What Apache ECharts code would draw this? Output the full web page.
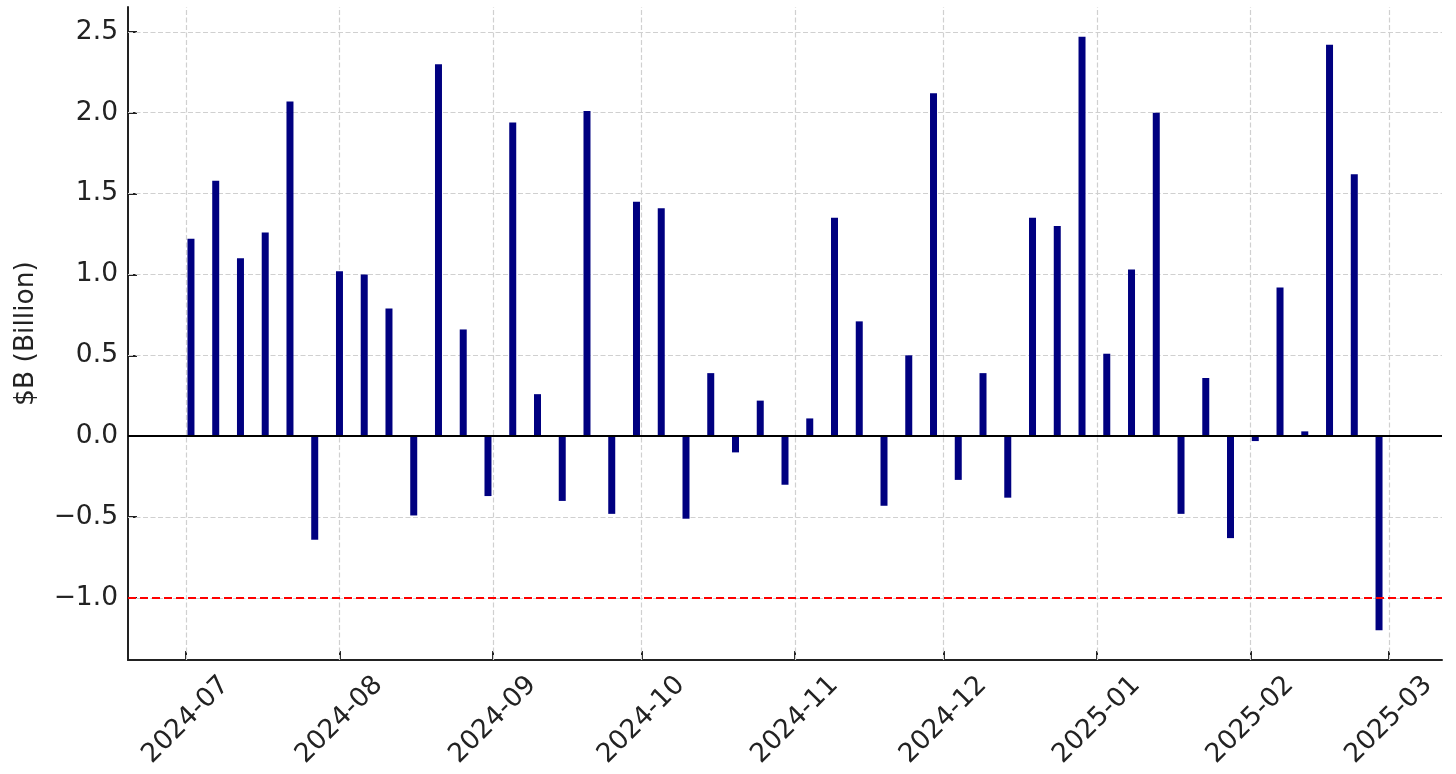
<!DOCTYPE html>
<html>
<head>
<meta charset="utf-8">
<script src="https://cdn.jsdelivr.net/npm/echarts@6/dist/echarts.min.js"></script>
<style>
html,body{margin:0;padding:0;background:#fff;}
#chart{width:1456px;height:774px;}
</style>
</head>
<body>
<div id="chart"></div>
<script>
// ---- data ----
const dates = [
  '2024-07-02','2024-07-07','2024-07-12','2024-07-17','2024-07-22','2024-07-27',
  '2024-08-01','2024-08-06','2024-08-11','2024-08-16','2024-08-21','2024-08-26','2024-08-31',
  '2024-09-05','2024-09-10','2024-09-15','2024-09-20','2024-09-25','2024-09-30',
  '2024-10-05','2024-10-10','2024-10-15','2024-10-20','2024-10-25','2024-10-30',
  '2024-11-04','2024-11-09','2024-11-14','2024-11-19','2024-11-24','2024-11-29',
  '2024-12-04','2024-12-09','2024-12-14','2024-12-19','2024-12-24','2024-12-29',
  '2025-01-03','2025-01-08','2025-01-13','2025-01-18','2025-01-23','2025-01-28',
  '2025-02-02','2025-02-07','2025-02-12','2025-02-17','2025-02-22','2025-02-27'
];
const values = [
  1.22, 1.58, 1.10, 1.26, 2.07, -0.64,
  1.02, 1.00, 0.79, -0.49, 2.30, 0.66, -0.37,
  1.94, 0.26, -0.40, 2.01, -0.48, 1.45,
  1.41, -0.51, 0.39, -0.10, 0.22, -0.30,
  0.11, 1.35, 0.71, -0.43, 0.50, 2.12,
  -0.27, 0.39, -0.38, 1.35, 1.30, 2.47,
  0.51, 1.03, 2.00, -0.48, 0.36, -0.63,
  -0.03, 0.92, 0.03, 2.42, 1.62, -1.20
];
const monthTicks = ['2024-07-01','2024-08-01','2024-09-01','2024-10-01','2024-11-01','2024-12-01','2025-01-01','2025-02-01','2025-03-01'];
const yTicks = [-1.0, -0.5, 0.0, 0.5, 1.0, 1.5, 2.0, 2.5];
const zeroLine = 0;
const thresholdLine = -1.0;
const yName = '$B (Billion)';

// ---- chart ----
const DAY = 86400000;
const ts = s => { const p = s.split('-').map(Number); return Date.UTC(p[0], p[1]-1, p[2]); };
const xMin = ts('2024-07-01') - 11.72 * DAY;
const xMax = ts('2025-03-01') + 10.72 * DAY;
const monthTs = monthTicks.map(ts);
const pad2 = n => (n < 10 ? '0' : '') + n;
const fmtMonth = v => { const d = new Date(v); return d.getUTCFullYear() + '-' + pad2(d.getUTCMonth() + 1); };
const fmtY = v => (v < 0 ? '\u2212' : '') + Math.abs(v).toFixed(1);

const FONT = 'DejaVu Sans';
const TXT = '#222222';
const GRID = '#d0d0d0';
const FS = 26.5;

const chart = echarts.init(document.getElementById('chart'), null, {renderer: 'canvas'});
chart.setOption({
  animation: false,
  backgroundColor: '#fff',
  textStyle: {fontFamily: FONT},
  grid: {left: 128, right: 14, top: 7, bottom: 114, containLabel: false},
  xAxis: {
    type: 'value',
    min: xMin,
    max: xMax,
    axisLine: {show: true, onZero: false, lineStyle: {color: TXT, width: 2}},
    axisTick: {show: true, inside: true, length: 9, lineStyle: {color: TXT, width: 2}, customValues: monthTs},
    axisLabel: {
      customValues: monthTs,
      formatter: fmtMonth,
      rotate: 45, align: 'center', verticalAlign: 'middle', margin: 60,
      fontSize: FS, color: TXT, fontFamily: FONT
    },
    splitLine: {show: false}
  },
  yAxis: {
    type: 'value',
    min: -1.3835,
    max: 2.6535,
    splitNumber: 8,
    name: yName,
    nameLocation: 'middle',
    nameGap: 88,
    nameRotate: 90,
    nameTextStyle: {fontSize: FS, color: TXT, fontFamily: FONT},
    axisLine: {show: true, lineStyle: {color: TXT, width: 2}},
    axisTick: {show: true, inside: true, length: 9, lineStyle: {color: TXT, width: 2}, customValues: yTicks},
    axisLabel: {customValues: yTicks, formatter: fmtY, fontSize: FS, color: TXT, margin: 10, fontFamily: FONT},
    splitLine: {show: false}
  },
  series: [
    {
      // dashed grid lines at the tick positions
      type: 'line',
      data: [],
      silent: true,
      markLine: {
        symbol: 'none', silent: true, z: 1,
        label: {show: false},
        lineStyle: {type: [5, 2.5], color: GRID, width: 1.2},
        data: monthTs.map(v => ({xAxis: v}))
          .concat(yTicks.map(v => ({yAxis: v})))
      },
      z: 0
    },
    {
      type: 'bar',
      data: dates.map((d, i) => [ts(d), values[i]]),
      barWidth: 7,
      itemStyle: {color: '#000080'},
      z: 2,
      markLine: {
        symbol: 'none', silent: true, z: 10,
        label: {show: false},
        data: [
          {yAxis: zeroLine, lineStyle: {color: '#000', width: 2, type: 'solid'}},
          {yAxis: thresholdLine, lineStyle: {color: '#ff0000', width: 2, type: [8, 4]}}
        ]
      }
    }
  ]
});
</script>
</body>
</html>
